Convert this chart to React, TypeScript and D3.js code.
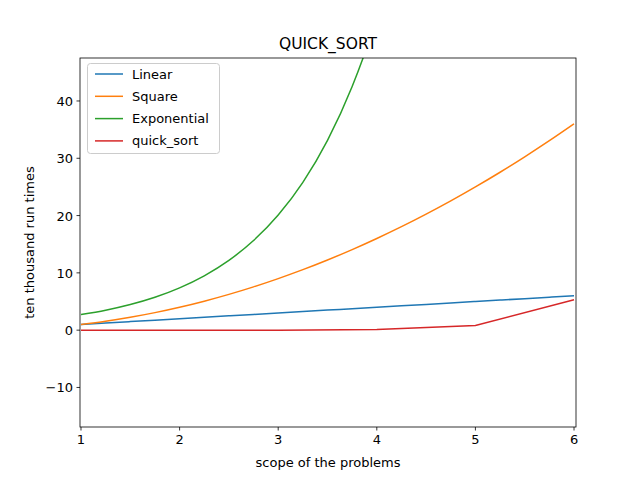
import React from "react";
import * as d3 from "d3";

const xs = [1, 1.25, 1.5, 1.75, 2, 2.25, 2.5, 2.75, 3, 3.25, 3.5, 3.75, 4, 4.25, 4.5, 4.75, 5, 5.25, 5.5, 5.75, 6];
const linear = [1, 1.25, 1.5, 1.75, 2, 2.25, 2.5, 2.75, 3, 3.25, 3.5, 3.75, 4, 4.25, 4.5, 4.75, 5, 5.25, 5.5, 5.75, 6];
const square = [1, 1.56, 2.25, 3.06, 4, 5.06, 6.25, 7.56, 9, 10.56, 12.25, 14.06, 16, 18.06, 20.25, 22.56, 25, 27.56, 30.25, 33.06, 36];
const exponential = [2.72, 3.49, 4.48, 5.75, 7.39, 9.49, 12.18, 15.64, 20.09, 25.79, 33.12, 42.52, 54.6, 70.1, 90.0, 115.6, 148.4, 190.6, 244.7, 314.2, 403.4];
const qsX = [1, 2, 3, 4, 5, 6];
const quickSort = [0, 0, 0, 0.1, 0.8, 5.3];
const xTicks = [1, 2, 3, 4, 5, 6];
const yTicks = [-10, 0, 10, 20, 30, 40];

const series = [
  { name: "Linear", color: "#1f77b4", x: xs, y: linear, smooth: true },
  { name: "Square", color: "#ff7f0e", x: xs, y: square, smooth: true },
  { name: "Exponential", color: "#2ca02c", x: xs, y: exponential, smooth: true },
  { name: "quick_sort", color: "#d62728", x: qsX, y: quickSort, smooth: false },
];

const L = 80, R = 576, T = 58, B = 427;

export default function App() {
  const x = d3.scaleLinear().domain([0.99, 6.02]).range([L, R]);
  const y = d3.scaleLinear().domain([-16.9, 47.5]).range([B, T]);
  const font = "DejaVu Sans, sans-serif";
  return (
    <svg width={640} height={480} style={{ position: "absolute", left: 0, top: 0 }} fontFamily={font}>
      <rect width={640} height={480} fill="white" />
      <defs>
        <clipPath id="clip">
          <rect x={L} y={T} width={R - L} height={B - T} />
        </clipPath>
      </defs>
      <g clipPath="url(#clip)">
        {series.map((s) => {
          const line = d3
            .line<number>()
            .x((_, i) => x(s.x[i]))
            .y((v) => y(v))
            .curve(s.smooth ? d3.curveMonotoneX : d3.curveLinear);
          return <path key={s.name} d={line(s.y) || ""} fill="none" stroke={s.color} strokeWidth={1.5} />;
        })}
      </g>
      <rect x={L} y={T} width={R - L} height={B - T} fill="none" stroke="black" strokeWidth={0.8} />
      {xTicks.map((t) => (
        <g key={t}>
          <line x1={x(t)} x2={x(t)} y1={B} y2={B + 3.5} stroke="black" strokeWidth={0.8} />
          <text x={x(t)} y={B + 17} textAnchor="middle" fontSize={13}>{t}</text>
        </g>
      ))}
      {yTicks.map((t) => (
        <g key={t}>
          <line x1={L - 3.5} x2={L} y1={y(t)} y2={y(t)} stroke="black" strokeWidth={0.8} />
          <text x={L - 7} y={y(t) + 5} textAnchor="end" fontSize={13}>{t < 0 ? "\u2212" + Math.abs(t) : t}</text>
        </g>
      ))}
      <text x={328} y={49} textAnchor="middle" fontSize={15.5}>QUICK_SORT</text>
      <text x={328} y={467} textAnchor="middle" fontSize={13}>scope of the problems</text>
      <text transform={`translate(34,${(T + B) / 2}) rotate(-90)`} textAnchor="middle" fontSize={13}>ten thousand run times</text>
      <rect x={87.5} y={63.5} width={132} height={90} rx={3} fill="white" fillOpacity={0.8} stroke="#cccccc" />
      {series.map((s, i) => (
        <g key={s.name}>
          <line x1={95} x2={123} y1={74 + i * 22.3} y2={74 + i * 22.3} stroke={s.color} strokeWidth={1.5} />
          <text x={132} y={78.5 + i * 22.3} fontSize={13}>{s.name}</text>
        </g>
      ))}
    </svg>
  );
}
